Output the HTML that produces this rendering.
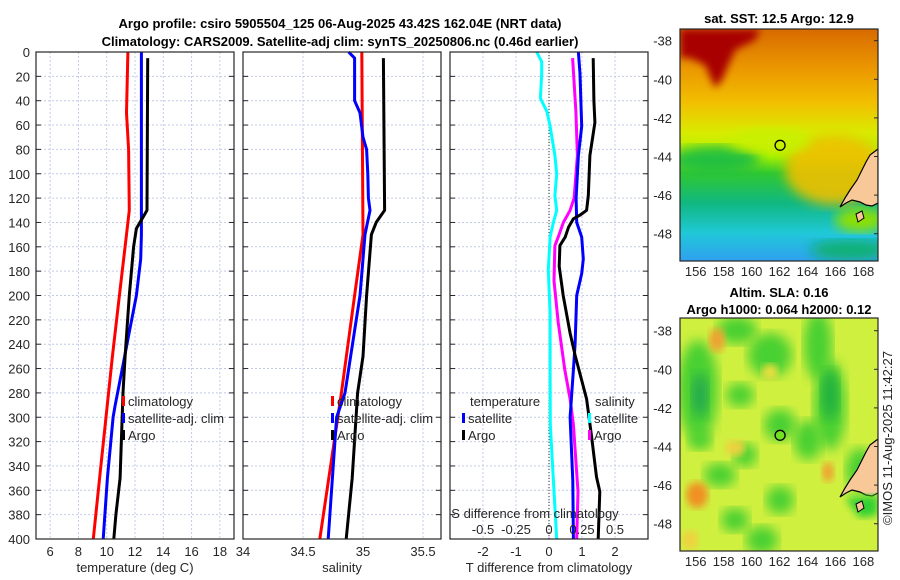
<!DOCTYPE html>
<html><head><meta charset="utf-8"><style>
html,body{margin:0;padding:0;background:#fff;}
svg{display:block;font-family:"Liberation Sans","DejaVu Sans",sans-serif;}
.t{font-size:13px;fill:#262626;}
.b{font-size:13px;font-weight:bold;fill:#000;}
</style></head><body>
<svg id="chart" width="900" height="580" viewBox="0 0 900 580" xmlns="http://www.w3.org/2000/svg">
<defs>
<linearGradient id="sstg" x1="0" y1="0" x2="0" y2="1">
<stop offset="0" stop-color="#d86a00"/><stop offset="0.18" stop-color="#ec9a00"/>
<stop offset="0.32" stop-color="#f2c000"/><stop offset="0.45" stop-color="#d8ec00"/>
<stop offset="0.55" stop-color="#a8f000"/><stop offset="0.62" stop-color="#30c830"/>
<stop offset="0.75" stop-color="#10b880"/><stop offset="0.88" stop-color="#20c8d8"/>
<stop offset="1" stop-color="#30a0f0"/></linearGradient>
<filter id="blur6"><feGaussianBlur stdDeviation="6"/></filter>
<filter id="blur4"><feGaussianBlur stdDeviation="4"/></filter>
<clipPath id="c1"><rect x="680" y="29" width="198" height="232"/></clipPath>
<clipPath id="c2"><rect x="680" y="318" width="198" height="233"/></clipPath>
</defs>
<text class="b" x="340" y="28" text-anchor="middle">Argo profile: csiro 5905504_125 06-Aug-2025 43.42S 162.04E (NRT data)</text>
<text class="b" x="340" y="46" text-anchor="middle">Climatology: CARS2009. Satellite-adj clim: synTS_20250806.nc (0.46d earlier)</text>
<g id="panels"></g>
<g id="maps"></g>
</svg>
<script>
const NS="http://www.w3.org/2000/svg";
const svg=document.getElementById('chart');
const P=document.getElementById('panels');
const M=document.getElementById('maps');
function mk(tag,at,parent){const e=document.createElementNS(NS,tag);for(const k in at)e.setAttribute(k,at[k]);(parent||P).appendChild(e);return e;}

// ---- data ----
const depthTicks=[0,20,40,60,80,100,120,140,160,180,200,220,240,260,280,300,320,340,360,380,400];
const tempTicks=[6,8,10,12,14,16,18];
const salTicks=[34,34.5,35,35.5];
const salTickLabels=["34","34.5","35","35.5"];
const tdiffTicks=[-2,-1,0,1,2];
const sdiffTicks=[-0.5,-0.25,0,0.25,0.5];
const sdiffTickLabels=["-0.5","-0.25","0","0.25","0.5"];

const climTDepth=[0,50,80,130,150,200,250,300,350,400];
const climT=[11.5,11.4,11.55,11.6,11.4,10.9,10.4,9.95,9.5,9.05];
const satTDepth=[0,150,170,200,230,260,290,300,350,400];
const satT=[12.45,12.45,12.4,12.1,11.6,11.1,10.6,10.45,10.05,9.75];
const argoTDepth=[5,130,135,145,160,200,250,280,350,380,400];
const argoT=[12.9,12.85,12.6,12.1,11.9,11.6,11.3,11.15,10.95,10.65,10.5];

const climSDepth=[0,150,200,280,400];
const climS=[34.99,35.0,34.93,34.82,34.64];
const satSDepth=[0,5,40,50,70,80,100,120,130,150,200,280,300,400];
const satS=[34.88,34.93,34.93,34.975,35.0,35.03,35.04,35.045,35.058,35.017,34.975,34.85,34.78,34.71];
const argoSDepth=[5,130,140,150,200,250,280,350,380,400];
const argoS=[35.17,35.18,35.11,35.07,35.03,35.0,34.955,34.91,34.88,34.86];

const dSatSDepth=[0,8,18,38,49,61,85,100,118,130,140,152,179,215,261,306,352,400];
const dSatS=[-0.093,-0.055,-0.055,-0.065,-0.015,0.008,0.045,0.058,0.045,0.058,0.033,0.008,-0.005,0.008,0.008,0.01,0.033,0.058];
const dArgoSDepth=[5,49,85,120,130,140,152,159,188,222,261,285,306,361,400];
const dArgoS=[0.179,0.204,0.215,0.19,0.16,0.109,0.07,0.045,0.038,0.07,0.12,0.16,0.185,0.22,0.21];
const dSatTDepth=[0,18,61,85,120,140,152,170,182,200,240,261,300,352,400];
const dSatT=[0.89,0.94,0.99,0.89,0.82,0.84,0.99,1.04,0.99,0.84,0.79,0.74,0.64,0.72,0.74];
const dArgoTDepth=[5,40,58,85,118,130,134,137,144,152,159,176,200,231,249,285,316,349,361,400];
const dArgoT=[1.34,1.36,1.39,1.24,1.19,1.14,0.94,0.74,0.59,0.49,0.33,0.31,0.43,0.64,0.79,1.14,1.29,1.44,1.54,1.49];

// ---- axes ----
const Y0=52,Y1=539;
const yS=d=>Y0+d*(Y1-Y0)/400;
function xScale(x0,lo,hi){return v=>x0+(v-lo)/(hi-lo)*198;}
const x1=xScale(36,5,19), x2=xScale(243,34,35.65), x3=xScale(450,-3,3);
const xs3=v=>x3(v*4);
const panels=[{x0:36,name:'temperature'},{x0:243,name:'salinity'},{x0:450,name:'difference'}];

panels.forEach((p,i)=>{
  const g=mk('g',{});
  
  
  depthTicks.forEach(d=>{
    mk('line',{x1:p.x0,x2:p.x0+198,y1:yS(d),y2:yS(d),stroke:'#c4cbe6','stroke-width':1,'stroke-dasharray':'2,2'},g);
    mk('line',{x1:p.x0,x2:p.x0+5,y1:yS(d),y2:yS(d),stroke:'#262626'},g);
    mk('line',{x1:p.x0+193,x2:p.x0+198,y1:yS(d),y2:yS(d),stroke:'#262626'},g);
  });
});
const gx=(arr,sc,labels,yl,lab,title)=>{
  arr.forEach((v,i)=>{
    mk('line',{x1:sc(v),x2:sc(v),y1:Y0,y2:Y1,stroke:'#c4cbe6','stroke-dasharray':'2,2'});
    if(labels){const t=mk('text',{x:sc(v),y:yl,'text-anchor':'middle',class:'t'});t.textContent=labels[i];
      
      }
  });
  const tt=mk('text',{x:lab,y:572,'text-anchor':'middle',class:'t'});tt.textContent=title;
  
  
};
gx(tempTicks,x1,tempTicks.map(String),556,135,'temperature (deg C)');
gx(salTicks.slice(1),x2,null,0,342,'salinity');
salTicks.forEach((v,i)=>{const t=mk('text',{x:x2(v),y:556,'text-anchor':'middle',class:'t'});t.textContent=salTickLabels[i];
  
  });
gx(tdiffTicks,x3,tdiffTicks.map(String),556,549,'T difference from climatology');
depthTicks.forEach(d=>{const t=mk('text',{x:30,y:yS(d)+5,'text-anchor':'end',class:'t'});t.textContent=String(d);
  
  });
// zero line
mk('line',{x1:x3(0),x2:x3(0),y1:Y0,y2:Y1,stroke:'#333','stroke-dasharray':'1,2'});

function line(ds,vs,sc,color,name,w){
  const pts=ds.map((d,i)=>sc(vs[i]).toFixed(1)+','+yS(d).toFixed(1)).join(' ');
  const e=mk('polyline',{points:pts,fill:'none',stroke:color,'stroke-width':w||3,'stroke-linejoin':'round'});
  
  
}
line(climTDepth,climT,x1,'#ff0000','temp-climatology-line');
line(satTDepth,satT,x1,'#0000ff','temp-satellite-line');
line(argoTDepth,argoT,x1,'#000000','temp-argo-line');
line(climSDepth,climS,x2,'#ff0000','sal-climatology-line');
line(satSDepth,satS,x2,'#0000ff','sal-satellite-line');
line(argoSDepth,argoS,x2,'#000000','sal-argo-line');
line(dSatSDepth,dSatS,xs3,'#00ffff','sdiff-satellite-line');
line(dArgoSDepth,dArgoS,xs3,'#ff00ff','sdiff-argo-line');
line(dSatTDepth,dSatT,x3,'#0000ff','tdiff-satellite-line');
line(dArgoTDepth,dArgoT,x3,'#000000','tdiff-argo-line');

// S diff secondary axis labels
const st=mk('text',{x:535,y:518,'text-anchor':'middle',class:'t'});st.textContent='S difference from climatology';


sdiffTicks.forEach((v,i)=>{const t=mk('text',{x:xs3(v),y:534,'text-anchor':'middle',class:'t'});t.textContent=sdiffTickLabels[i];
  
  });

// frames
panels.forEach(p=>{const r=mk('rect',{x:p.x0,y:Y0,width:198,height:Y1-Y0,fill:'none',stroke:'#262626','stroke-width':1.2});
  
  });

// legends
function leg(x,y,color,label,name){
  mk('rect',{x:x,y:y-10,width:3,height:10,fill:color});
  const t=mk('text',{x:x+6,y:y,class:'t'});t.textContent=label;
  
  
}
leg(122,406,'#ff0000','climatology','legend-climatology');
leg(122,423,'#0000ff','satellite-adj. clim','legend-satellite');
leg(122,440,'#000000','Argo','legend-argo');
leg(331,406,'#ff0000','climatology','legend-climatology-2');
leg(331,423,'#0000ff','satellite-adj. clim','legend-satellite-2');
leg(331,440,'#000000','Argo','legend-argo-2');
let tt=mk('text',{x:470,y:406,class:'t'});tt.textContent='temperature';


leg(462,423,'#0000ff','satellite','legend-t-satellite');
leg(462,440,'#000000','Argo','legend-t-argo');
tt=mk('text',{x:595,y:406,class:'t'});tt.textContent='salinity';


leg(588,423,'#00ffff','satellite','legend-s-satellite');
leg(588,440,'#ff00ff','Argo','legend-s-argo');

// ---- maps ----
const lonTicks=[156,158,160,162,164,166,168];
const latTicks=[-38,-40,-42,-44,-46,-48];
function mapAxes(top,latRef,clipId){
  const lx=v=>695.7+(v-156)*13.97, ly=v=>latRef+(-38-v)*19.3;
  latTicks.forEach(v=>{const t=mk('text',{x:672,y:ly(v)+5,'text-anchor':'end',class:'t'},M);t.textContent=String(v);
    
    
    mk('line',{x1:874,x2:878,y1:ly(v),y2:ly(v),stroke:'#262626'},M);});
  lonTicks.forEach(v=>{const t=mk('text',{x:lx(v),y:top+(clipId==='c1'?247:248),'text-anchor':'middle',class:'t'},M);t.textContent=String(v);
    
    });
  return {lx,ly};
}
// SST map
const g1=mk('g',{'clip-path':'url(#c1)'},M);


mk('rect',{x:680,y:29,width:198,height:232,fill:'url(#sstg)'},g1);
mk('path',{d:'M680,29 L760,29 L755,40 L735,50 L722,80 L715,88 L705,65 L690,58 L680,58 Z',fill:'#a80000',filter:'url(#blur4)'},g1);
mk('ellipse',{cx:835,cy:170,rx:50,ry:35,fill:'#f0c000',filter:'url(#blur6)',opacity:0.9},g1);
mk('ellipse',{cx:715,cy:160,rx:45,ry:14,fill:'#20c040',filter:'url(#blur6)'},g1);
mk('ellipse',{cx:770,cy:140,rx:40,ry:12,fill:'#c8f000',filter:'url(#blur6)'},g1);
mk('ellipse',{cx:860,cy:220,rx:25,ry:12,fill:'#90e000',filter:'url(#blur6)'},g1);
mk('ellipse',{cx:850,cy:250,rx:40,ry:10,fill:'#10b070',filter:'url(#blur6)'},g1);
const land1='M878,149 L870,155 L866,162 L862,170 L857,180 L850,190 L845,198 L840,207 L846,203 L852,200 L860,202 L866,205 L872,206 L878,203 Z';
mk('path',{d:land1,fill:'#f8c898',stroke:'#000','stroke-width':1.2},g1);
mk('path',{d:'M856,214 L862,211 L864,218 L858,222 Z',fill:'#f8c898',stroke:'#000'},g1);
mk('rect',{x:680,y:29,width:198,height:232,fill:'none',stroke:'#262626','stroke-width':1.2},M);
const a1=mapAxes(29,40.7,"c1");
const c1=mk('circle',{cx:a1.lx(162.04),cy:a1.ly(-43.42),r:5,fill:'none',stroke:'#000','stroke-width':1.3},M);


let mt=mk('text',{x:779,y:23,'text-anchor':'middle',class:'b'},M);mt.textContent='sat. SST: 12.5 Argo: 12.9';



// SLA map
const g2=mk('g',{'clip-path':'url(#c2)'},M);


mk('rect',{x:680,y:318,width:198,height:233,fill:'#d0f040'},g2);
const greens=[[698,390,20,50],[737,330,20,14],[770,355,22,22],[818,345,14,35],[830,405,16,45],[808,440,14,20],[780,425,16,16],[745,455,12,12],[720,475,16,12],[780,500,14,14],[762,540,16,14],[735,520,14,12],[860,470,14,22],[740,395,14,12],[700,440,12,10]];
greens.forEach(e=>mk('ellipse',{cx:e[0],cy:e[1],rx:e[2],ry:e[3],fill:'#48d030',filter:'url(#blur6)'},g2));
mk('ellipse',{cx:830,cy:395,rx:9,ry:25,fill:'#20b040',filter:'url(#blur6)'},g2);
mk('ellipse',{cx:700,cy:395,rx:8,ry:22,fill:'#20a850',filter:'url(#blur6)'},g2);
const oranges=[[717,340,8,12,'#f0a030'],[697,495,11,13,'#f09020'],[828,472,6,10,'#f0a030'],[735,448,10,8,'#f0d040'],[690,540,8,10,'#f0d040'],[770,372,8,8,'#f0e040']];
oranges.forEach(e=>mk('ellipse',{cx:e[0],cy:e[1],rx:e[2],ry:e[3],fill:e[4],filter:'url(#blur4)'},g2));
mk('path',{d:land1,fill:'#f8c898',stroke:'#000','stroke-width':1.2,transform:'translate(0,290)'},g2);
mk('path',{d:'M845,498 L878,495 L878,515 L860,518 Z',fill:'#30d030',filter:'url(#blur4)'},g2);
mk('path',{d:'M856,504 L862,501 L864,508 L858,512 Z',fill:'#f8c898',stroke:'#000'},g2);
mk('rect',{x:680,y:318,width:198,height:233,fill:'none',stroke:'#262626','stroke-width':1.2},M);
const a2=mapAxes(318,330.7,"c2");
const c2=mk('circle',{cx:a2.lx(162.04),cy:a2.ly(-43.42),r:5,fill:'#70e020',stroke:'#000','stroke-width':1.3},M);


mt=mk('text',{x:779,y:297,'text-anchor':'middle',class:'b'},M);mt.textContent='Altim. SLA: 0.16';


mt=mk('text',{x:779,y:314,'text-anchor':'middle',class:'b'},M);mt.textContent='Argo h1000: 0.064 h2000: 0.12';


mt=mk('text',{x:0,y:0,'text-anchor':'middle',class:'t',transform:'translate(892,438) rotate(-90)'},M);mt.textContent='©IMOS 11-Aug-2025 11:42:27';


</script>
</body></html>
